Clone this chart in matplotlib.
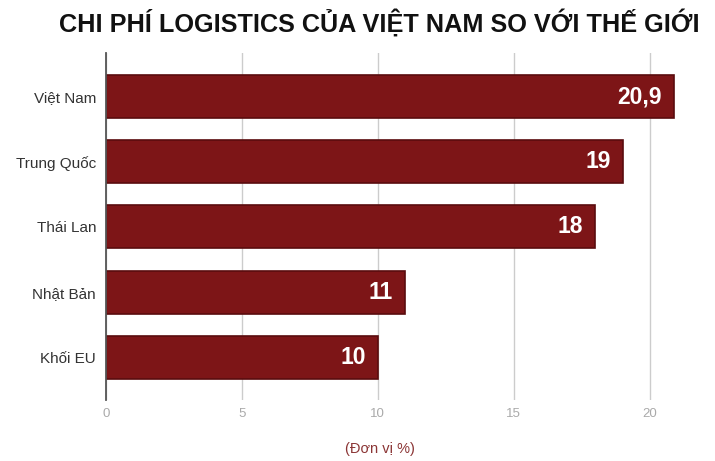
import matplotlib
matplotlib.use("Agg")
import matplotlib.pyplot as plt

categories = ["Việt Nam", "Trung Quốc", "Thái Lan", "Nhật Bản", "Khối EU"]
values = [20.9, 19, 18, 11, 10]
value_labels = ["20,9", "19", "18", "11", "10"]
xticks = [0, 5, 10, 15, 20]
title = "CHI PHÍ LOGISTICS CỦA VIỆT NAM SO VỚI THẾ GIỚI"
xlabel = "(Đơn vị %)"

plt.rcParams['font.family'] = ['Liberation Sans', 'DejaVu Sans']

fig = plt.figure(figsize=(7.15, 4.61), dpi=100)
ax = fig.add_axes([0.148, 0.132, 0.837, 0.753])

ypos = list(range(len(categories)))
ax.barh(ypos, values, height=0.66, color="#7d1517", edgecolor="#5a0c0e",
        linewidth=1.2, zorder=3)
for y, v, lab in zip(ypos, values, value_labels):
    ax.text(v - 0.45, y, lab, ha="right", va="center", color="white",
            fontsize=16.5, fontweight="bold", zorder=4)

ax.set_xlim(0, 22)
ax.set_ylim(4.66, -0.67)
ax.set_yticks(ypos)
ax.set_yticklabels(categories, fontsize=11, color="#333333")
ax.set_xticks(xticks)
ax.set_xticklabels([str(t) for t in xticks], fontsize=9.5, color="#aaaaaa")
ax.tick_params(axis="y", length=0, pad=7)
ax.tick_params(axis="x", length=0, pad=6)
ax.grid(axis="x", color="#cccccc", linewidth=1, zorder=0)
for s in ["top", "right", "bottom"]:
    ax.spines[s].set_visible(False)
ax.spines["left"].set_color("#555555")
ax.spines["left"].set_linewidth(1.3)
ax.spines["left"].set_zorder(5)

fig.text(0.531, 0.952, title, ha="center", va="center", fontsize=18.2,
         fontweight="bold", color="#111111")
fig.text(0.531, 0.025, xlabel, ha="center", va="center", fontsize=10.5,
         color="#8b3535")

fig.savefig("out.png", dpi=100)
